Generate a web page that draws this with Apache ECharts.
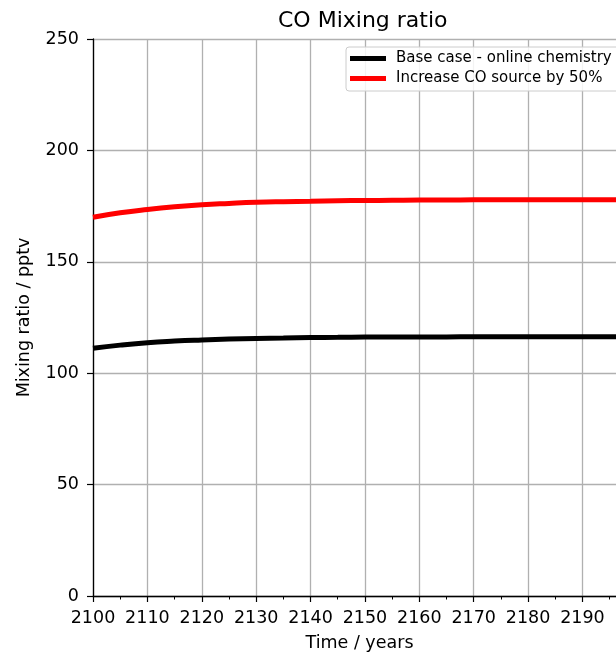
<!DOCTYPE html>
<html>
<head>
<meta charset="utf-8">
<script src="https://cdn.jsdelivr.net/npm/echarts@6/dist/echarts.min.js"></script>
<style>
  html, body { margin: 0; padding: 0; background: #fff; }
  #chart { width: 616px; height: 654px; }
</style>
</head>
<body>
<div id="chart"></div>
<script>
// Model years (5-year steps)
const years = [2100, 2105, 2110, 2115, 2120, 2125, 2130, 2135, 2140, 2145, 2150,
               2155, 2160, 2165, 2170, 2175, 2180, 2185, 2190, 2195, 2198];

// CO mixing ratio, pptv
const baseCase = [111.2, 112.6, 113.7, 114.4, 114.9, 115.3, 115.6, 115.8, 116.0, 116.1, 116.2,
                  116.3, 116.3, 116.3, 116.4, 116.4, 116.4, 116.4, 116.4, 116.4, 116.4];
const increasedSource = [170.0, 172.0, 173.5, 174.7, 175.6, 176.2, 176.7, 177.0, 177.2, 177.4, 177.5,
                         177.6, 177.7, 177.7, 177.8, 177.8, 177.8, 177.8, 177.8, 177.8, 177.8];

const seriesNames = ['Base case - online chemistry', 'Increase CO source by 50%'];
const seriesColors = ['#000000', '#ff0000'];

const FONT = 'DejaVu Sans';

const chart = echarts.init(document.getElementById('chart'), null, { renderer: 'canvas' });

const pair = (xs, ys) => xs.map((x, i) => [x, ys[i]]);

chart.setOption({
  animation: false,
  backgroundColor: '#ffffff',
  textStyle: { fontFamily: FONT },
  title: {
    text: 'CO Mixing ratio',
    left: 273,
    top: 5,
    textStyle: { fontFamily: FONT, fontSize: 22, fontWeight: 'normal', color: '#000' }
  },
  grid: {
    left: 93,
    top: 39,
    right: -10,
    bottom: 58,
    containLabel: false,
    outerBoundsMode: 'none'
  },
  legend: {
    data: seriesNames,
    orient: 'vertical',
    left: 346,
    top: 47,
    padding: [3, 20, 4, 4],
    itemGap: 3,
    itemWidth: 36,
    itemHeight: 5,
    icon: 'rect',
    borderColor: '#cccccc',
    borderWidth: 1,
    borderRadius: 3,
    backgroundColor: 'rgba(255,255,255,0.85)',
    textStyle: { fontFamily: FONT, fontSize: 15, color: '#000', lineHeight: 17, padding: [0, 0, 0, 5] }
  },
  xAxis: {
    type: 'value',
    min: 2100,
    max: 2198,
    interval: 10,
    name: 'Time / years',
    nameLocation: 'middle',
    nameGap: 38,
    nameTextStyle: { fontFamily: FONT, fontSize: 17.5, color: '#000' },
    axisLine: { show: true, onZero: false, lineStyle: { color: '#000', width: 1.3 } },
    axisTick: { show: true, inside: false, length: 6, lineStyle: { color: '#000', width: 1.2 } },
    minorTick: { show: true, splitNumber: 2, length: 3.5, lineStyle: { color: '#000', width: 1 } },
    axisLabel: {
      fontFamily: FONT, fontSize: 17.5, color: '#000', margin: 13,
      showMaxLabel: false,
      formatter: v => (v >= 2100 && v <= 2190 ? String(v) : '')
    },
    splitLine: { show: true, lineStyle: { color: '#b0b0b0', width: 1.3 } }
  },
  yAxis: {
    type: 'value',
    min: 0,
    max: 250,
    interval: 50,
    name: 'Mixing ratio / pptv',
    nameLocation: 'middle',
    nameGap: 60,
    nameRotate: 90,
    nameTextStyle: { fontFamily: FONT, fontSize: 17.5, color: '#000' },
    axisLine: { show: true, onZero: false, lineStyle: { color: '#000', width: 1.3 } },
    axisTick: { show: true, inside: false, length: 6, lineStyle: { color: '#000', width: 1.2 } },
    axisLabel: { fontFamily: FONT, fontSize: 17.5, color: '#000', margin: 14 },
    splitLine: { show: true, lineStyle: { color: '#b0b0b0', width: 1.3 } }
  },
  series: [
    {
      name: seriesNames[0],
      type: 'line',
      data: pair(years, baseCase),
      smooth: true,
      showSymbol: false,
      symbol: 'none',
      color: seriesColors[0],
      lineStyle: { color: seriesColors[0], width: 5 },
      z: 3
    },
    {
      name: seriesNames[1],
      type: 'line',
      data: pair(years, increasedSource),
      smooth: true,
      showSymbol: false,
      symbol: 'none',
      color: seriesColors[1],
      lineStyle: { color: seriesColors[1], width: 5 },
      z: 4
    }
  ]
});
</script>
</body>
</html>
